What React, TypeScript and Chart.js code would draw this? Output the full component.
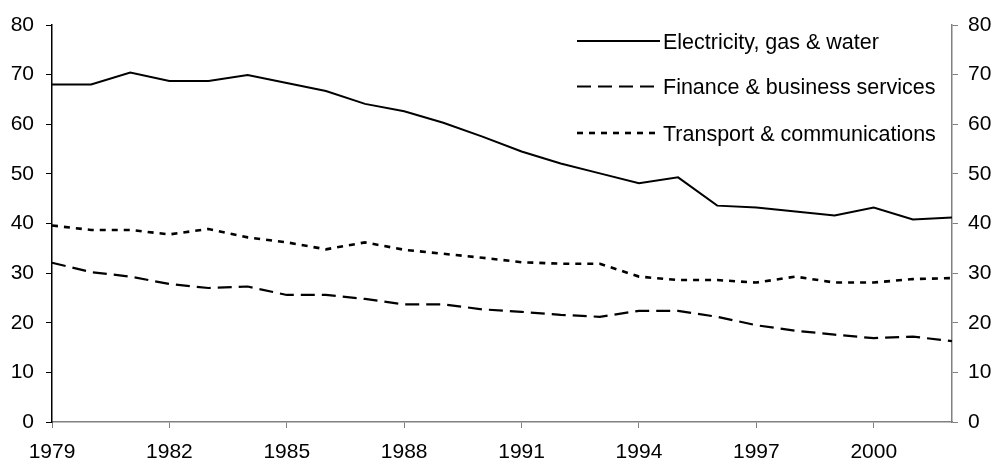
import React, { useEffect, useRef } from "react";
import { Chart, registerables } from "chart.js";

Chart.register(...registerables);

const years = [
  "1979", "1980", "1981", "1982", "1983", "1984", "1985", "1986", "1987", "1988", "1989", "1990",
  "1991", "1992", "1993", "1994", "1995", "1996", "1997", "1998", "1999", "2000", "2001", "2002",
];
const electricity = [
  68.0, 68.0, 70.4, 68.7, 68.7, 69.9, 68.3, 66.7, 64.1, 62.6, 60.3, 57.5,
  54.5, 52.1, 50.1, 48.1, 49.3, 43.6, 43.2, 42.4, 41.6, 43.2, 40.8, 41.2,
];
const finance = [
  32.1, 30.2, 29.3, 27.8, 27.0, 27.3, 25.6, 25.6, 24.8, 23.7, 23.7, 22.7,
  22.2, 21.6, 21.2, 22.4, 22.4, 21.2, 19.5, 18.4, 17.6, 16.9, 17.2, 16.3,
];
const transport = [
  39.6, 38.7, 38.7, 37.8, 38.9, 37.2, 36.2, 34.8, 36.2, 34.7, 33.9, 33.1,
  32.2, 31.9, 31.9, 29.3, 28.6, 28.6, 28.1, 29.3, 28.1, 28.1, 28.8, 29.0,
];
const seriesLabels = [
  "Electricity, gas & water",
  "Finance & business services",
  "Transport & communications",
];
const yTicks = [0, 10, 20, 30, 40, 50, 60, 70, 80];

const FONT = "Arial, 'Liberation Sans', sans-serif";

const legendPlugin = {
  id: "customLegend",
  afterDraw(chart: any) {
    const ctx = chart.ctx;
    const rows = [41, 86.5, 133];
    const x0 = 577;
    const x1 = 660;
    ctx.save();
    chart.data.datasets.forEach((ds: any, i: number) => {
      const y = rows[i];
      ctx.beginPath();
      ctx.setLineDash(ds.borderDash || []);
      ctx.lineWidth = ds.borderWidth;
      ctx.strokeStyle = ds.borderColor;
      ctx.moveTo(x0, y);
      ctx.lineTo(x1, y);
      ctx.stroke();
      ctx.setLineDash([]);
      ctx.fillStyle = "#000";
      ctx.font = `21.5px ${FONT}`;
      ctx.textBaseline = "alphabetic";
      ctx.textAlign = "left";
      ctx.fillText(ds.label, 663, y + 7.5);
    });
    ctx.restore();
  },
};

export default function App() {
  const ref = useRef<HTMLCanvasElement | null>(null);
  useEffect(() => {
    document.body.style.margin = "0";
    const canvas = ref.current!;
    const chart = new Chart(canvas, {
      type: "line",
      data: {
        labels: years,
        datasets: [
          {
            label: seriesLabels[0],
            data: electricity,
            borderColor: "#000",
            borderWidth: 2,
            pointRadius: 0,
            tension: 0,
            fill: false,
          },
          {
            label: seriesLabels[1],
            data: finance,
            borderColor: "#000",
            borderWidth: 2.2,
            borderDash: [14, 7],
            pointRadius: 0,
            tension: 0,
            fill: false,
          },
          {
            label: seriesLabels[2],
            data: transport,
            borderColor: "#000",
            borderWidth: 2.6,
            borderDash: [6, 6],
            pointRadius: 0,
            tension: 0,
            fill: false,
          },
        ],
      },
      options: {
        animation: false,
        responsive: false,
        maintainAspectRatio: false,
        layout: { padding: { top: 25, left: 0, right: 0, bottom: 0 } },
        plugins: {
          legend: { display: false },
          tooltip: { enabled: false },
        },
        scales: {
          x: {
            type: "category",
            offset: false,
            afterFit: (s: any) => {
              s.height = 40;
            },
            border: { display: true, color: "#808080", width: 1.5 },
            grid: {
              drawOnChartArea: false,
              drawTicks: true,
              tickLength: 6,
              offset: false,
              color: (c: any) => (c.index % 3 === 0 ? "#808080" : "rgba(0,0,0,0)"),
            },
            ticks: {
              autoSkip: false,
              maxRotation: 0,
              padding: 12,
              color: "#000",
              font: { family: FONT, size: 21 },
              callback: (_v: any, i: number) => (i % 3 === 0 ? years[i] : ""),
            },
          },
          y: {
            position: "left",
            min: 0,
            max: 80,
            afterFit: (s: any) => {
              s.width = 52;
            },
            afterBuildTicks: (s: any) => {
              s.ticks = yTicks.map((v) => ({ value: v }));
            },
            border: { display: true, color: "#000", width: 1.5 },
            grid: { drawOnChartArea: false, drawTicks: true, tickLength: 6, color: "#000" },
            ticks: {
              padding: 12,
              color: "#000",
              font: { family: FONT, size: 21 },
            },
          },
          y2: {
            position: "right",
            min: 0,
            max: 80,
            afterFit: (s: any) => {
              s.width = 42;
            },
            afterBuildTicks: (s: any) => {
              s.ticks = yTicks.map((v) => ({ value: v }));
            },
            border: { display: true, color: "#808080", width: 1.5 },
            grid: { drawOnChartArea: false, drawTicks: true, tickLength: 6, color: "#808080" },
            ticks: {
              padding: 10,
              color: "#000",
              font: { family: FONT, size: 21 },
            },
          },
        },
      },
      plugins: [legendPlugin],
    });
    return () => chart.destroy();
  }, []);
  return (
    <div style={{ width: 994, height: 462, background: "#fff" }}>
      <canvas ref={ref} width={994} height={462} style={{ display: "block" }} />
    </div>
  );
}
